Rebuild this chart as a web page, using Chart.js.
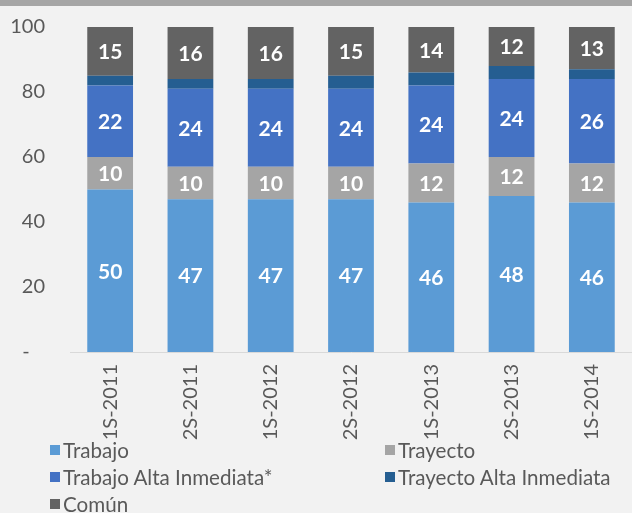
<!DOCTYPE html>
<html>
<head>
<meta charset="utf-8">
<script src="https://cdn.jsdelivr.net/npm/chart.js@4.4.1/dist/chart.umd.min.js"></script>
<style>
  html, body { margin: 0; padding: 0; background: #f2f2f2; }
  #wrap { position: relative; width: 632px; height: 513px; overflow: hidden; }
  #topbar { position: absolute; left: 0; top: 0; width: 632px; height: 6px; background: #a6a6a6; }
  #legend { position: absolute; left: 0; top: 0; width: 632px; height: 513px; pointer-events: none; }
  .item { position: absolute; height: 24px; line-height: 24px; font-family: Lato, sans-serif; font-size: 20.6px; color: #595959; white-space: nowrap; }
  .box { position: absolute; left: 0; top: 7px; width: 10px; height: 10px; }
  .txt { position: absolute; left: 13px; top: 0; }
</style>
</head>
<body>
<div id="wrap">
  <canvas id="chart" width="632" height="513"></canvas>
  <div id="topbar"></div>
  <div id="legend"></div>
</div>
<script>
// categories and series (percent)
const categories = ["1S-2011", "2S-2011", "1S-2012", "2S-2012", "1S-2013", "2S-2013", "1S-2014"];
const trabajo = [50, 47, 47, 47, 46, 48, 46];
const trayecto = [10, 10, 10, 10, 12, 12, 12];
const trabajoAlta = [22, 24, 24, 24, 24, 24, 26];
const trayectoAlta = [3, 3, 3, 4, 4, 4, 3];
const comun = [15, 16, 16, 15, 14, 12, 13];
const yTicks = [0, 20, 40, 60, 80, 100];

const seriesNames = ["Trabajo", "Trayecto", "Trabajo Alta Inmediata*", "Trayecto Alta Inmediata", "Común"];
const seriesColors = ["#5b9bd5", "#a5a5a5", "#4472c4", "#255e91", "#636363"];
const seriesData = [trabajo, trayecto, trabajoAlta, trayectoAlta, comun];
// Trayecto Alta Inmediata has no value labels in the picture
const showLabels = [true, true, true, false, true];

const FONT = "Lato";

// white numbers in the middle of each segment
const segmentLabels = {
  id: "segmentLabels",
  afterDatasetsDraw(chart) {
    const ctx = chart.ctx;
    ctx.save();
    ctx.fillStyle = "#ffffff";
    ctx.font = "bold 21px " + FONT;
    ctx.textAlign = "center";
    ctx.textBaseline = "middle";
    chart.data.datasets.forEach(function (ds, i) {
      if (!showLabels[i]) return;
      const meta = chart.getDatasetMeta(i);
      meta.data.forEach(function (bar, j) {
        ctx.fillText(String(ds.data[j]), bar.x, (bar.y + bar.base) / 2 + 1);
      });
    });
    ctx.restore();
  },
};

const datasets = seriesNames.map(function (name, i) {
  return {
    label: name,
    data: seriesData[i],
    backgroundColor: seriesColors[i],
    borderWidth: 0,
    barPercentage: 0.57,
    categoryPercentage: 1,
  };
});

new Chart(document.getElementById("chart"), {
  type: "bar",
  data: { labels: categories, datasets: datasets },
  plugins: [segmentLabels],
  options: {
    responsive: false,
    animation: false,
    layout: { padding: { top: 27, bottom: 73, left: 0, right: 0 } },
    plugins: {
      legend: { display: false },
      tooltip: { enabled: false },
    },
    scales: {
      x: {
        stacked: true,
        grid: { display: false, drawTicks: false },
        border: { display: true, color: "#d9d9d9", width: 1 },
        ticks: {
          color: "#595959",
          font: { family: FONT, size: 20 },
          minRotation: 90,
          maxRotation: 90,
          autoSkip: false,
          padding: 12,
        },
        afterFit(scale) {
          scale.height = 88;
        },
      },
      y: {
        stacked: true,
        min: 0,
        max: 100,
        grid: { display: false, drawTicks: false },
        border: { display: false },
        afterBuildTicks(scale) {
          scale.ticks = yTicks.map(function (v) { return { value: v }; });
        },
        ticks: {
          color: "#595959",
          font: { family: FONT, size: 20 },
          padding: 25,
          callback: function (v) { return v === 0 ? "-   " : v; },
        },
        afterFit(scale) {
          // fixed axis width; drop the extra top padding that the tick padding adds
          scale.width = 70;
          scale.paddingTop = 0;
          scale.paddingBottom = 0;
        },
      },
    },
  },
});

// legend in two columns, like the original
const legendPos = [[50, 438], [385, 438], [50, 465], [385, 465], [50, 492]];
const legend = document.getElementById("legend");
seriesNames.forEach(function (name, i) {
  const item = document.createElement("div");
  item.className = "item";
  item.style.left = legendPos[i][0] + "px";
  item.style.top = legendPos[i][1] + "px";
  const box = document.createElement("div");
  box.className = "box";
  box.style.background = seriesColors[i];
  const txt = document.createElement("div");
  txt.className = "txt";
  txt.textContent = name;
  item.appendChild(box);
  item.appendChild(txt);
  legend.appendChild(item);
});
</script>
</body>
</html>
